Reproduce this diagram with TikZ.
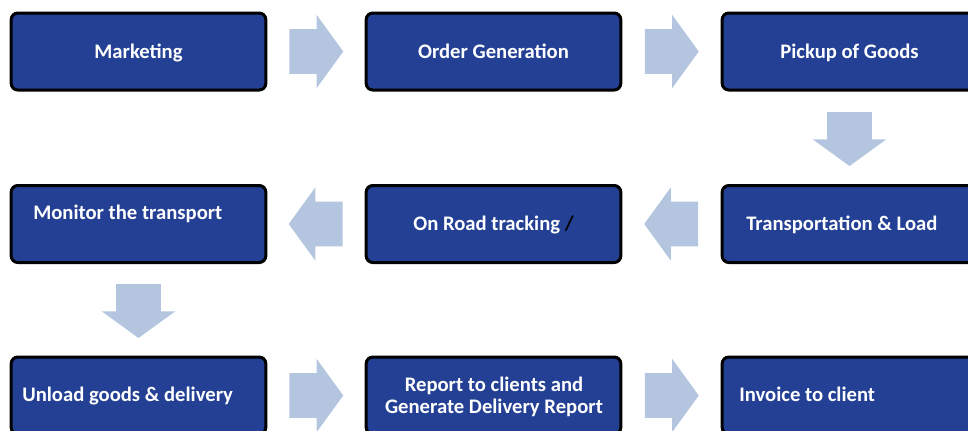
\documentclass[tikz,border=0pt]{standalone}
\usepackage{fontspec}
\setmainfont{Carlito}
\usepackage{xcolor}
\usepackage{tikz}
\usetikzlibrary{calc,shapes.arrows}
\definecolor{boxblue}{RGB}{35, 64, 148}
\definecolor{arrowblue}{RGB}{180, 197, 224}

\tikzset{
  stage/.style={draw=black, line width=2.25pt, rounded corners=5pt, fill=boxblue,
    text=white, font=\bfseries\fontsize{15.5}{17}\selectfont, align=center,
    minimum width=191pt, minimum height=57.75pt, inner sep=0pt,
    text height=11pt, text depth=0.8pt},
  stagetext/.style={text=white, font=\bfseries\fontsize{15.5}{17}\selectfont,
    anchor=west, inner sep=0pt, text height=11pt, text depth=0.8pt},
  flow/.style={single arrow, fill=arrowblue, draw=none, anchor=tail,
    minimum height=40.5pt, single arrow head extend=10.9pt,
    single arrow tip angle=108},
  flowh/.style={flow, inner xsep=0pt, inner ysep=16.5pt},
  flowv/.style={flow, inner xsep=16.5pt, inner ysep=0pt, shape border rotate=270}
}

\begin{document}
\begin{tikzpicture}[x=0.75pt,y=-0.75pt]
\useasboundingbox (0,0) rectangle (968,430);
\clip (0,0) rectangle (968,430);

% first row
\node[stage] (mkt) at (138.5,51.5) {Marketing};
\node[stage] (ord) at (493.5,51.5) {Order Generation};
\node[stage] (pick) at (849.5,51.5) {Pickup of Goods};

% second row
\node[stage] (mon) at (138.5,224) {};
\node[stagetext] (montxt) at (33,213) {Monitor the transport};
\node[stage] (road) at (493.5,224) {On Road tracking {\color{black}/}};
\node[stage] (trans) at (849.5,224) {};
\node[stagetext] (transtxt) at (746,224) {Transportation \& Load};

% third row
\node[stage] (unl) at (138.5,395.5) {};
\node[stagetext] (unltxt) at (22,395) {Unload goods \& delivery};
\node[stage] (rep) at (493.5,395.5) {};
\node[text=white, font=\bfseries\fontsize{15.5}{17}\selectfont, align=center,
  inner sep=0pt] (reptxt) at (494,397) {Report to clients and\\Generate Delivery Report};
\node[stage] (inv) at (849.5,395.5) {};
\node[stagetext] (invtxt) at (739,395) {Invoice to client};

% block arrows
\node[flowh] (a1) at ($(mkt.east)!0.5!(ord.west)+(-27,0)$) {};
\node[flowh] (a2) at ($(ord.east)!0.5!(pick.west)+(-27,0)$) {};
\node[flowv] (a3) at ($(pick.south)!0.5!(trans.north)+(0,-26)$) {};
\node[flowh, shape border rotate=180] (a4) at ($(trans.west)!0.5!(road.east)+(27,0)$) {};
\node[flowh, shape border rotate=180] (a5) at ($(road.west)!0.5!(mon.east)+(27,0)$) {};
\node[flowv] (a6) at ($(mon.south)!0.5!(unl.north)+(0,-26)$) {};
\node[flowh] (a7) at ($(unl.east)!0.5!(rep.west)+(-27,0)$) {};
\node[flowh] (a8) at ($(rep.east)!0.5!(inv.west)+(-27,0)$) {};
\end{tikzpicture}
\end{document}
